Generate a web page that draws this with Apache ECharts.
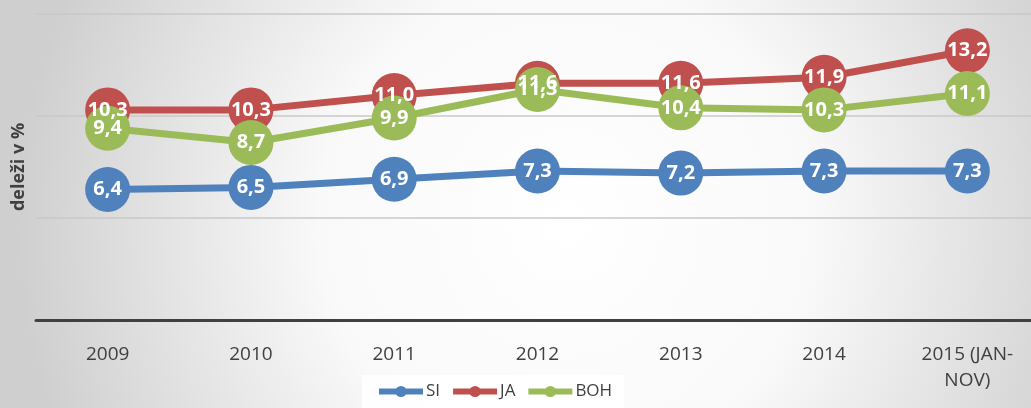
<!DOCTYPE html>
<html>
<head>
<meta charset="utf-8">
<script src="https://cdn.jsdelivr.net/npm/echarts@6/dist/echarts.min.js"></script>
<style>
  html, body { margin: 0; padding: 0; }
  #main { width: 1031px; height: 408px; }
</style>
</head>
<body>
<div id="main"></div>
<script>
var years = ['2009', '2010', '2011', '2012', '2013', '2014', '2015 (JAN-\nNOV)'];
var si = [6.4, 6.5, 6.9, 7.3, 7.2, 7.3, 7.3];
var ja = [10.3, 10.3, 11.0, 11.6, 11.6, 11.9, 13.2];
var boh = [9.4, 8.7, 9.9, 11.3, 10.4, 10.3, 11.1];

var myChart = echarts.init(document.getElementById('main'));

// vrednosti z decimalno vejico
function fmt (p) {
  return p.value.toFixed(1).replace('.', ',');
}

function makeSeries (name, data, color) {
  return {
    name: name,
    type: 'line',
    data: data,
    symbol: 'circle',
    symbolSize: 45,
    lineStyle: { color: color, width: 7 },
    itemStyle: { color: color },
    label: {
      show: true,
      position: 'inside',
      formatter: fmt,
      color: '#fff',
      fontWeight: 'bold',
      fontSize: 20,
      fontFamily: 'Open Sans'
    },
    emphasis: { disabled: true },
    animation: false
  };
}

var option = {
  backgroundColor: new echarts.graphic.RadialGradient(0.55, 0.55, 1.35, [
    { offset: 0, color: '#ffffff' },
    { offset: 0.45, color: '#f9f9f9' },
    { offset: 1, color: '#cfcfcf' }
  ]),
  textStyle: { fontFamily: 'Open Sans' },
  grid: {
    left: 36,
    right: -8,
    top: 14,
    bottom: 88,
    containLabel: false,
    outerBoundsMode: 'none'
  },
  legend: {
    bottom: 0,
    left: 362,
    itemWidth: 44,
    itemHeight: 14,
    itemGap: 10,
    padding: [8, 12, 8, 14],
    backgroundColor: 'rgba(255,255,255,0.85)',
    lineStyle: { width: 6 },
    textStyle: { fontSize: 17, color: '#404040', fontFamily: 'Open Sans', padding: [0, 0, 0, -2] },
    data: ['SI', 'JA', 'BOH']
  },
  xAxis: {
    type: 'category',
    data: years,
    boundaryGap: true,
    axisLine: { lineStyle: { color: '#404040', width: 3 } },
    axisTick: { show: false },
    axisLabel: {
      color: '#404040',
      fontSize: 19,
      margin: 22,
      lineHeight: 26
    }
  },
  yAxis: {
    type: 'value',
    min: 0,
    max: 15,
    interval: 5,
    name: 'deleži v %',
    nameLocation: 'middle',
    nameRotate: 90,
    nameGap: 8,
    nameTextStyle: { fontSize: 18, fontWeight: 'bold', color: '#404040' },
    axisLabel: { show: false },
    axisLine: { show: false },
    axisTick: { show: false },
    splitLine: { lineStyle: { color: '#c8c8c8', width: 1.5 } }
  },
  series: [
    makeSeries('SI', si, '#4f81bd'),
    makeSeries('JA', ja, '#c0504d'),
    makeSeries('BOH', boh, '#9bbb59')
  ]
};

myChart.setOption(option);
</script>
</body>
</html>
